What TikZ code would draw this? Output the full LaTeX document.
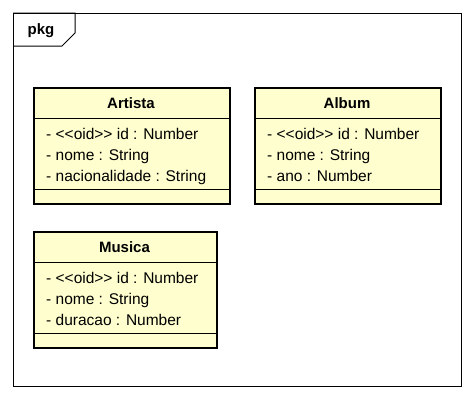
\documentclass[tikz,border=0pt]{standalone}
\usepackage{fontspec}
\setmainfont{Liberation Sans}
\definecolor{umlfill}{HTML}{FEFECE}
\newcommand{\oid}{<\kern0pt<oid>\kern0pt>}
\begin{document}
\begin{tikzpicture}[x=1pt,y=-1pt,
  classbox/.style={draw=black, line width=2pt, fill=umlfill, rectangle, inner sep=0pt, anchor=north west},
  sep/.style={draw=black, line width=1pt},
  frameline/.style={draw=black, line width=1pt},
  attr/.style={anchor=base west, inner sep=0pt, font=\fontsize{15.5}{18}\selectfont},
  ctitle/.style={anchor=base, inner sep=0pt, font=\bfseries\fontsize{15}{18}\selectfont}]
\useasboundingbox (0,0) rectangle (473,400);
% package frame
\node[frameline, rectangle, inner sep=0pt, minimum width=448, minimum height=373, anchor=north west] (frame) at (13,13) {};
\draw[frameline] (frame.north west) -| (75,33) -- (62,46) -- (frame.west |- 0,46);
\node[ctitle] (pkg) at (41,34.5) {pkg};
% Artista
\node[classbox, minimum width=196, minimum height=116] (artista) at (33,87) {};
\draw[sep] (artista.west |- 0,118) -- (artista.east |- 0,118);
\draw[sep] (artista.west |- 0,189) -- (artista.east |- 0,189);
\node[ctitle] (artistaT) at (131,108.5) {Artista};
\node[attr] (a1) at (46,139.5) {- \oid{} id : Number};
\node[attr] (a2) at (46,160.5) {- nome : String};
\node[attr] (a3) at (46,181.5) {- nacionalidade : String};
% Album
\node[classbox, minimum width=186, minimum height=116] (album) at (254,87) {};
\draw[sep] (album.west |- 0,118) -- (album.east |- 0,118);
\draw[sep] (album.west |- 0,189) -- (album.east |- 0,189);
\node[ctitle] (albumT) at (347,108.5) {Album};
\node[attr] (b1) at (267,139.5) {- \oid{} id : Number};
\node[attr] (b2) at (267,160.5) {- nome : String};
\node[attr] (b3) at (267,181.5) {- ano : Number};
% Musica
\node[classbox, minimum width=183, minimum height=116] (musica) at (33,231) {};
\draw[sep] (musica.west |- 0,262) -- (musica.east |- 0,262);
\draw[sep] (musica.west |- 0,333) -- (musica.east |- 0,333);
\node[ctitle] (musicaT) at (124.5,252.5) {Musica};
\node[attr] (c1) at (46,283.5) {- \oid{} id : Number};
\node[attr] (c2) at (46,304.5) {- nome : String};
\node[attr] (c3) at (46,325.5) {- duracao : Number};
\end{tikzpicture}
\end{document}
